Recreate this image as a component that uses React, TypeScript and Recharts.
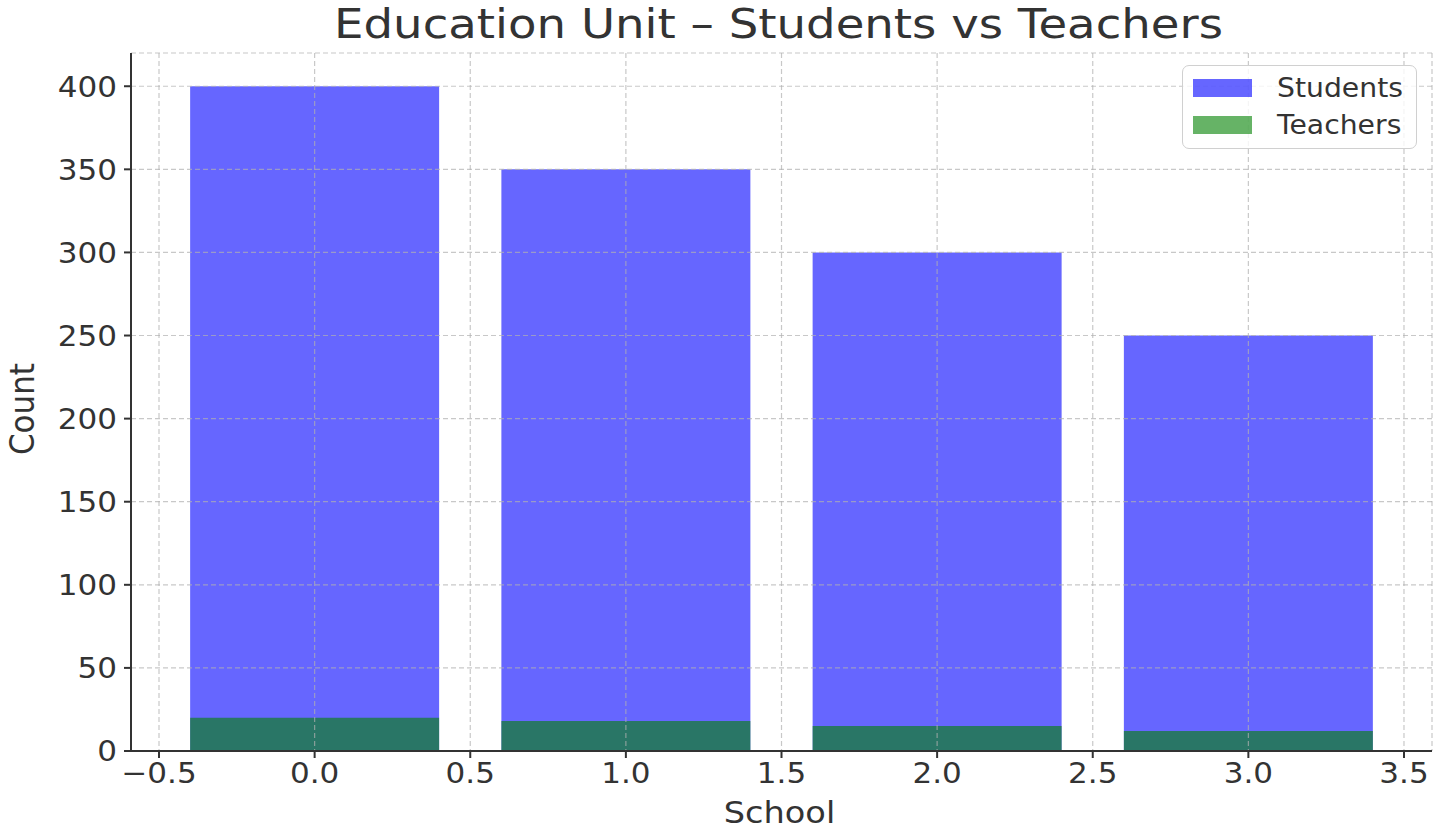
import React from 'react';
import { BarChart, Bar, XAxis, YAxis, CartesianGrid, Legend } from 'recharts';

const schools = [0, 1, 2, 3];
const students = [400, 350, 300, 250];
const teachers = [20, 18, 15, 12];
const xTicks = [-0.5, 0, 0.5, 1, 1.5, 2, 2.5, 3, 3.5];
const yTicks = [0, 50, 100, 150, 200, 250, 300, 350, 400];
const seriesNames = ['Students', 'Teachers'];

const data = schools.map((s, i) => ({ school: s, Students: students[i], Teachers: teachers[i] }));

const FONT = '"DejaVu Sans", Verdana, sans-serif';
const INK = '#333333';
const TICK_STRETCH = 1.07;

const fmtX = (v: number) => (v < 0 ? '\u2212' + Math.abs(v).toFixed(1) : v.toFixed(1));

const XTick = (props: any) => {
  const { x, y, payload } = props;
  return (
    <text
      x={0}
      y={0}
      dy="0.71em"
      textAnchor="middle"
      fill={INK}
      fontSize={29}
      fontFamily={FONT}
      transform={`translate(${x},${y}) scale(${TICK_STRETCH},1)`}
    >
      {fmtX(payload.value)}
    </text>
  );
};

const YTick = (props: any) => {
  const { x, y, payload } = props;
  return (
    <text
      x={0}
      y={0}
      dy="0.355em"
      textAnchor="end"
      fill={INK}
      fontSize={29}
      fontFamily={FONT}
      transform={`translate(${x},${y}) scale(${TICK_STRETCH},1)`}
    >
      {payload.value}
    </text>
  );
};

const LegendBox = (props: any) => {
  const payload = props.payload || [];
  return (
    <div
      style={{
        width: 235,
        height: 84,
        boxSizing: 'border-box',
        border: '1.5px solid #d0d0d0',
        borderRadius: 7,
        background: 'rgba(255,255,255,0.8)',
        paddingTop: 3,
        fontFamily: FONT,
      }}
    >
      {payload.map((p: any) => (
        <div key={p.value} style={{ display: 'flex', alignItems: 'center', height: 37.5, marginLeft: 10 }}>
          <div style={{ width: 59, height: 18, background: p.color, opacity: 0.6 }} />
          <span
            style={{
              marginLeft: 25,
              fontSize: 26,
              color: INK,
              lineHeight: '26px',
              display: 'inline-block',
              transform: 'scaleX(1.087)',
              transformOrigin: 'left center',
            }}
          >
            {p.value}
          </span>
        </div>
      ))}
    </div>
  );
};

export default function App() {
  return (
    <div style={{ position: 'absolute', left: 0, top: 0, width: 1441, height: 833, background: '#fff', fontFamily: FONT }}>
      <div
        style={{
          position: 'absolute',
          left: 128,
          width: 1301,
          top: 0,
          textAlign: 'center',
          fontSize: 40,
          lineHeight: '48px',
          color: INK,
          fontFamily: FONT,
          transform: 'scaleX(1.165)',
          transformOrigin: 'center center',
        }}
      >
        Education Unit – Students vs Teachers
      </div>
      <BarChart width={1441} height={833} data={data} margin={{ top: 53, right: 9, left: 0, bottom: 0 }}>
        {/* @ts-ignore */}
        <XAxis
          xAxisId="a"
          zIndex={1100}
          dataKey="school"
          type="number"
          domain={[-0.59, 3.59]}
          ticks={xTicks}
          interval={0}
          height={82}
          tickSize={7}
          tickMargin={4}
          stroke={INK}
          axisLine={{ stroke: INK, strokeWidth: 2 }}
          tickLine={{ stroke: INK, strokeWidth: 2 }}
          tick={<XTick />}
          label={(p: any) => {
            const vb = p.viewBox || {};
            const cx = vb.x + vb.width / 2 - 2;
            const cy = vb.y + 72;
            return (
              <text
                x={0}
                y={0}
                transform={`translate(${cx},${cy}) scale(1.12,1)`}
                textAnchor="middle"
                fill={INK}
                fontSize={30}
                fontFamily={FONT}
              >
                School
              </text>
            );
          }}
        />
        <XAxis xAxisId="b" dataKey="school" type="number" domain={[-0.59, 3.59]} ticks={xTicks} hide />
        {/* @ts-ignore */}
        <YAxis
          zIndex={1100}
          domain={[0, 420]}
          ticks={yTicks}
          interval={0}
          width={131}
          tickSize={7}
          tickMargin={7}
          axisLine={{ stroke: INK, strokeWidth: 2 }}
          tickLine={{ stroke: INK, strokeWidth: 2 }}
          tick={<YTick />}
          label={(p: any) => {
            const vb = p.viewBox || {};
            const cx = 34;
            const cy = vb.y + vb.height / 2 + 7;
            return (
              <text
                x={0}
                y={0}
                transform={`translate(${cx},${cy}) scale(1.1,1) rotate(-90)`}
                textAnchor="middle"
                fill={INK}
                fontSize={31}
                fontFamily={FONT}
              >
                Count
              </text>
            );
          }}
        />
        <Legend
          layout="horizontal"
          align="center"
          verticalAlign="middle"
          wrapperStyle={{ top: 65, left: 1182, width: 235 }}
          content={<LegendBox />}
        />
        <Bar xAxisId="a" dataKey={seriesNames[0]} name={seriesNames[0]} fill="#0000ff" fillOpacity={0.6} isAnimationActive={false} />
        <Bar xAxisId="b" dataKey={seriesNames[1]} name={seriesNames[1]} fill="#008000" fillOpacity={0.6} isAnimationActive={false} />
        {/* @ts-ignore */}
        <CartesianGrid xAxisId="a" zIndex={1000} stroke="#b0b0b0" strokeOpacity={0.7} strokeDasharray="5 3" strokeWidth={1.2} />
      </BarChart>
    </div>
  );
}
